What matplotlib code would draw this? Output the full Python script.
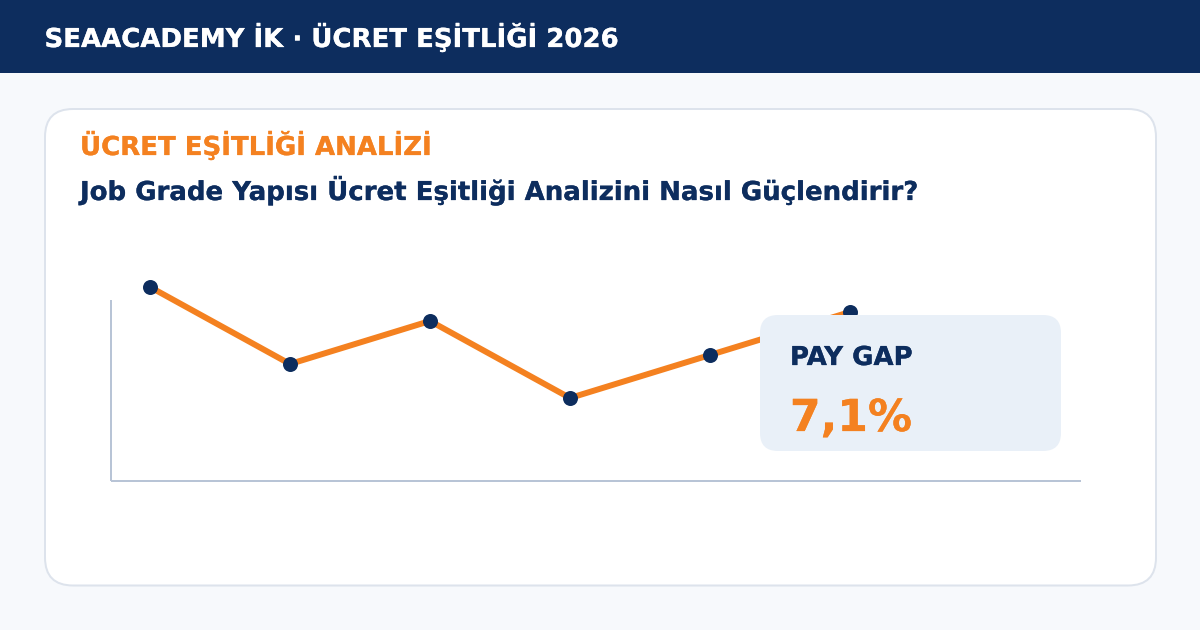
"""Pay gap card: orange line with navy points, header band and callout box."""

import matplotlib

matplotlib.use("Agg")
import matplotlib.patheffects as path_effects
import matplotlib.pyplot as plt
from matplotlib.patches import FancyBboxPatch, Rectangle

WIDTH = 1200
HEIGHT = 630

NAVY = "#0D2D5E"
ORANGE = "#F48120"
PAGE_BG = "#F7F9FC"
CARD_EDGE = "#DDE3EC"
AXIS_GREY = "#B8C4D6"
CALLOUT_BG = "#E9F0F8"

HEADER = "SEAACADEMY İK · ÜCRET EŞİTLİĞİ 2026"
EYEBROW = "ÜCRET EŞİTLİĞİ ANALİZİ"
TITLE = "Job Grade Yapısı Ücret Eşitliği Analizini Nasıl Güçlendirir?"
CALLOUT_LABEL = "PAY GAP"
CALLOUT_VALUE = "7,1%"

grade_index = [0, 1, 2, 3, 4, 5]
line_values = [194, 117, 160, 83, 126, 169]


def px_rect(left, top, right, bottom):
    """Convert a pixel box (origin top left) to a figure-fraction rect."""
    return [
        left / WIDTH,
        1 - bottom / HEIGHT,
        (right - left) / WIDTH,
        (bottom - top) / HEIGHT,
    ]


def bold_text(ax, x, y, label, color, size):
    """Bold text with a hairline stroke, the agg glyphs come out a bit thin."""
    ax.text(
        x,
        y,
        label,
        color=color,
        fontsize=size,
        fontweight="bold",
        va="baseline",
        path_effects=[path_effects.withStroke(linewidth=0.18, foreground=color)],
    )


def main():
    plt.rcParams["font.family"] = "DejaVu Sans"
    plt.rcParams["text.hinting"] = "no_hinting"
    plt.rcParams["text.hinting_factor"] = 1

    fig = plt.figure(figsize=(12, 6.3), dpi=100, facecolor=PAGE_BG)

    # full-figure canvas in pixels, y pointing down
    canvas = fig.add_axes([0, 0, 1, 1], zorder=0)
    canvas.set_xlim(0, WIDTH)
    canvas.set_ylim(HEIGHT, 0)
    canvas.axis("off")

    canvas.add_patch(Rectangle((0, 0), WIDTH, 73, facecolor=NAVY, edgecolor="none"))
    canvas.add_patch(
        FancyBboxPatch(
            (45, 109),
            1111,
            476.5,
            boxstyle="round,pad=0,rounding_size=28",
            facecolor="white",
            edgecolor=CARD_EDGE,
            linewidth=1.44,
        )
    )

    bold_text(canvas, 44.5, 47, HEADER, "white", 18.72)
    bold_text(canvas, 80, 155, EYEBROW, ORANGE, 18.72)
    bold_text(canvas, 80, 200, TITLE, NAVY, 18.72)

    # chart axes: x step is 140 px, y unit is 1 px
    ax = fig.add_axes(px_rect(111, 300, 1081, 481), zorder=1)
    ax.patch.set_alpha(0)
    ax.set_xlim(-39 / 140, 931 / 140)
    ax.set_ylim(0, 181)
    ax.set_xticks([])
    ax.set_yticks([])
    ax.spines["top"].set_visible(False)
    ax.spines["right"].set_visible(False)
    for side in ("left", "bottom"):
        ax.spines[side].set_color(AXIS_GREY)
        ax.spines[side].set_linewidth(1.44)
        ax.spines[side].set_capstyle("butt")

    ax.plot(grade_index, line_values, color=ORANGE, linewidth=4.3, clip_on=False, zorder=2)
    ax.plot(
        grade_index,
        line_values,
        linestyle="none",
        marker="o",
        markersize=10.8,
        markerfacecolor=NAVY,
        markeredgecolor="none",
        clip_on=False,
        zorder=3,
    )

    # callout sits on top of the last point
    overlay = fig.add_axes([0, 0, 1, 1], zorder=2)
    overlay.set_xlim(0, WIDTH)
    overlay.set_ylim(HEIGHT, 0)
    overlay.axis("off")
    overlay.add_patch(
        FancyBboxPatch(
            (760, 315),
            301,
            136,
            boxstyle="round,pad=0,rounding_size=18",
            facecolor=CALLOUT_BG,
            edgecolor="none",
        )
    )
    bold_text(overlay, 790, 365, CALLOUT_LABEL, NAVY, 18.72)
    bold_text(overlay, 790, 431, CALLOUT_VALUE, ORANGE, 31.68)

    fig.savefig("out.png", dpi=100, facecolor=PAGE_BG)
    plt.close(fig)


if __name__ == "__main__":
    main()
